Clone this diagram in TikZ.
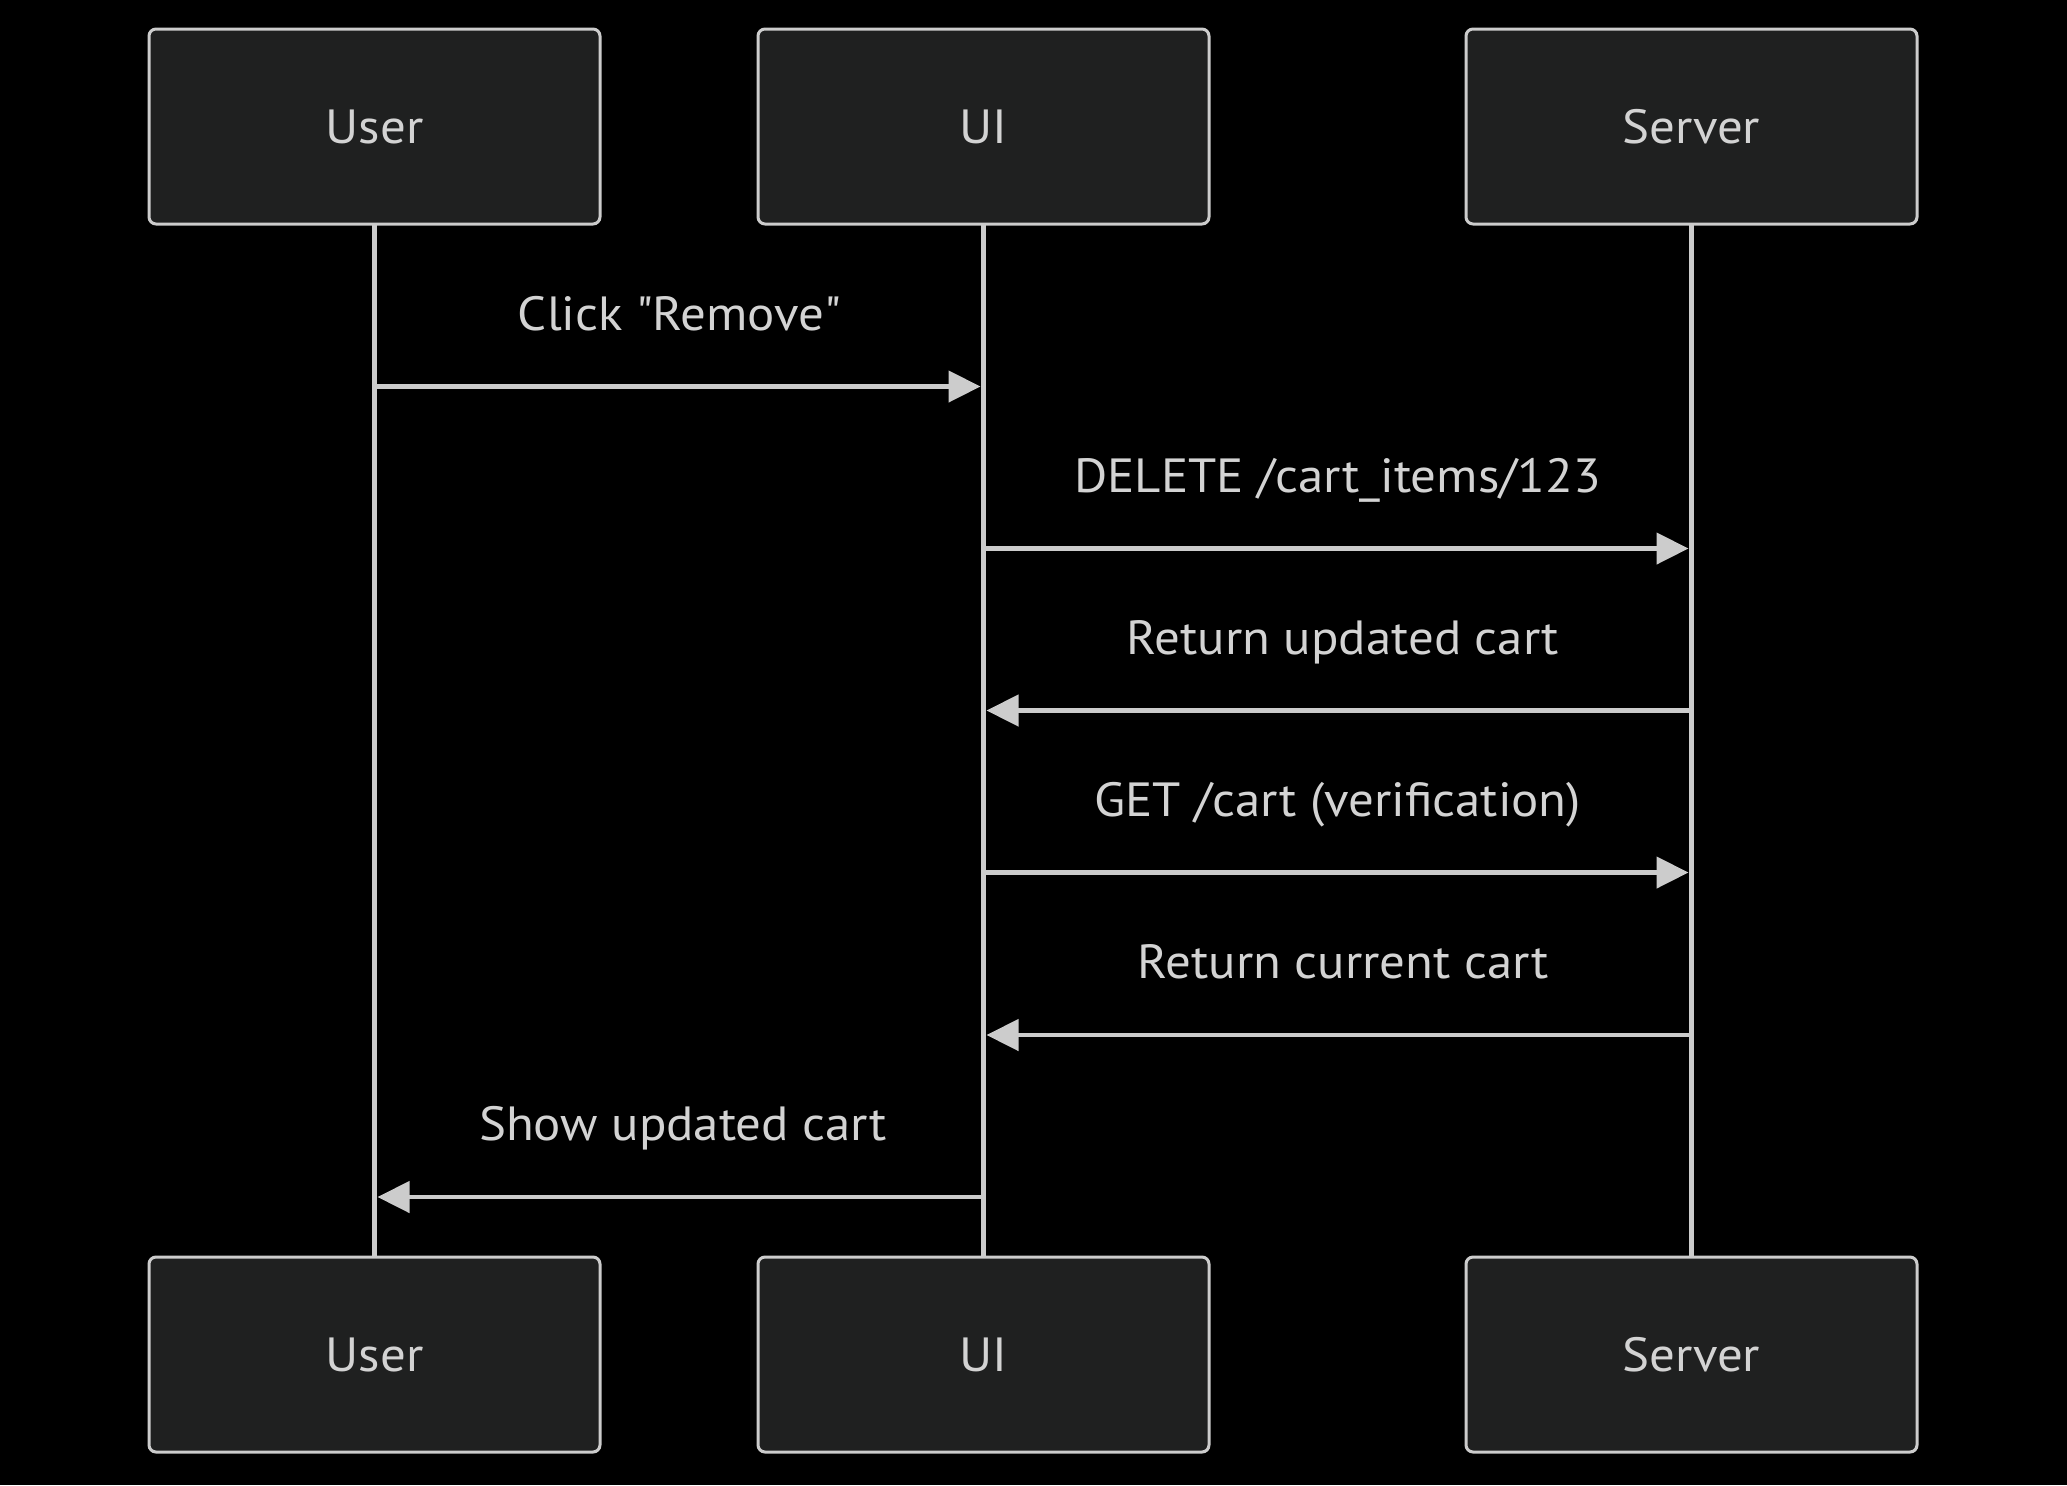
\documentclass[tikz,border=0pt]{standalone}
\usepackage{fontspec}
\setmainfont{PT Sans}[FakeStretch=1.06]
\usetikzlibrary{arrows.meta}
\definecolor{bg}{HTML}{000000}
\definecolor{boxfill}{HTML}{1F2020}
\definecolor{linec}{HTML}{CCCCCC}
\definecolor{textc}{HTML}{D3D3D3}
\tikzset{
  actor/.style={draw=linec, fill=boxfill, line width=1.5pt, rounded corners=3.5pt,
    minimum width=225.5pt, minimum height=97.5pt, inner sep=0pt,
    text=textc, font=\fontsize{24pt}{28pt}\selectfont},
  lifeline/.style={draw=linec, line width=2.75pt},
  msg/.style={draw=linec, line width=2.25pt,
    -{Triangle[length=16pt,width=15.5pt]}, shorten >=1.5pt},
  msglabel/.style={text=textc, font=\fontsize{24pt}{28pt}\selectfont, inner sep=0pt, anchor=base}
}
\begin{document}
\begin{tikzpicture}[x=0.5pt,y=-0.5pt]
\fill[bg] (0,0) rectangle (2067,1485);
\useasboundingbox (0,0) rectangle (2067,1485);

% lifelines first (behind boxes)
\coordinate (uT) at (374.5,224);
\coordinate (iT) at (983.5,224);
\coordinate (sT) at (1691.5,224);
\coordinate (uB) at (374.5,1258);
\coordinate (iB) at (983.5,1258);
\coordinate (sB) at (1691.5,1258);
\draw[lifeline] (uT) -- (uB);
\draw[lifeline] (iT) -- (iB);
\draw[lifeline] (sT) -- (sB);

% actor boxes
\node[actor] (userTop) at (374.5,126.5) {User};
\node[actor] (uiTop) at (983.5,126.5) {UI};
\node[actor] (serverTop) at (1691.5,126.5) {Server};
\node[actor] (userBot) at (374.5,1354.5) {User};
\node[actor] (uiBot) at (983.5,1354.5) {UI};
\node[actor] (serverBot) at (1691.5,1354.5) {Server};

% message points
\coordinate (u1) at (374.5,386.5);
\coordinate (i1) at (983.5,386.5);
\coordinate (i2) at (983.5,548.5);
\coordinate (s2) at (1691.5,548.5);
\coordinate (s3) at (1691.5,710.5);
\coordinate (i3) at (983.5,710.5);
\coordinate (i4) at (983.5,872.5);
\coordinate (s4) at (1691.5,872.5);
\coordinate (s5) at (1691.5,1035);
\coordinate (i5) at (983.5,1035);
\coordinate (i6) at (983.5,1197);
\coordinate (u6) at (374.5,1197);

\draw[msg] (u1) -- (i1);
\draw[msg] (i2) -- (s2);
\draw[msg] (s3) -- (i3);
\draw[msg] (i4) -- (s4);
\draw[msg] (s5) -- (i5);
\draw[msg] (i6) -- (u6);

\node[msglabel] (l1) at (679,330) {Click \textquotedbl Remove\textquotedbl};
\node[msglabel] (l2) at (1337.5,492) {DELETE /cart\_items/123};
\node[msglabel] (l3) at (1343,654) {Return updated cart};
\node[msglabel] (l4) at (1337.5,816) {GET /cart (verification)};
\node[msglabel] (l5) at (1343,978) {Return current cart};
\node[msglabel] (l6) at (683,1140) {Show updated cart};
\end{tikzpicture}
\end{document}
